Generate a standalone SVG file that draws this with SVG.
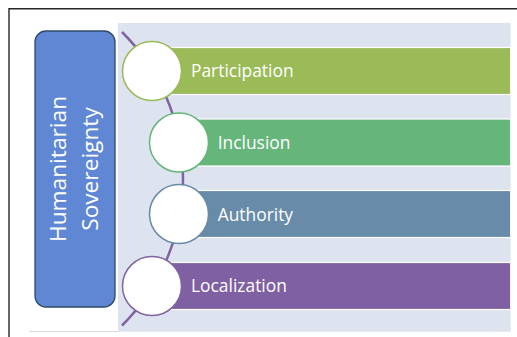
<svg xmlns="http://www.w3.org/2000/svg" width="517" height="337" viewBox="0 0 517 337">
  <style>
    .frame { fill: none; stroke: #262626; stroke-width: 1.4; }
    .panel { fill: #DDE4EF; }
    .bar { stroke: #FFFFFF; stroke-width: 1.2; }
    .dot { fill: #FFFFFF; stroke-width: 1.5; }
    .label { font-family: "Open Sans", "Liberation Sans", sans-serif; font-size: 17.4px; fill: #FFFFFF; }
    .title { font-family: "Open Sans", "Liberation Sans", sans-serif; font-size: 22.7px; fill: #FFFFFF; text-anchor: middle; }
    .spine { fill: none; stroke: #8064A2; stroke-width: 2.5; }
  </style>

  <rect width="517" height="337" fill="#FFFFFF"/>

  <!-- outer frame -->
  <path class="frame" d="M9,337 V8.7 H517"/>
  <line x1="29" y1="331.5" x2="118" y2="331.5" stroke="#D9D9D9" stroke-width="1.2"/>

  <!-- light background panel -->
  <rect class="panel" x="118" y="23" width="392.7" height="308.7"/>

  <!-- vertical title box -->
  <g id="title">
    <rect x="35" y="31" width="80" height="276" rx="11" ry="11" fill="#5F87D3" stroke="#2E4A6B" stroke-width="1.3"/>
    <text class="title" transform="translate(66,169) rotate(-90)">Humanitarian</text>
    <text class="title" transform="translate(97.5,169) rotate(-90)">Sovereignty</text>
  </g>

  <!-- bars -->
  <g id="bar-participation">
    <rect class="bar" x="152" y="47.5" width="358.7" height="47" fill="#9BBB59"/>
  </g>
  <g id="bar-inclusion">
    <rect class="bar" x="179" y="119" width="331.7" height="47" fill="#66B57A"/>
  </g>
  <g id="bar-authority">
    <rect class="bar" x="179" y="190.5" width="331.7" height="47" fill="#678BA8"/>
  </g>
  <g id="bar-localization">
    <rect class="bar" x="152" y="262.5" width="358.7" height="47" fill="#7F60A2"/>
  </g>

  <!-- connectors -->
  <g id="connectors">
    <path class="spine" d="M122,32 A207,207 0 0 1 122,325.5"/>
  </g>

  <!-- nodes -->
  <g id="participation">
    <circle class="dot" cx="152" cy="71" r="29.5" stroke="#9BBB59"/>
    <text class="label" x="191" y="77.3">Participation</text>
  </g>
  <g id="inclusion">
    <circle class="dot" cx="179" cy="142.5" r="29.5" stroke="#66B57A"/>
    <text class="label" x="217.7" y="149">Inclusion</text>
  </g>
  <g id="authority">
    <circle class="dot" cx="179" cy="214" r="29.5" stroke="#678BA8"/>
    <text class="label" x="217.7" y="220.6">Authority</text>
  </g>
  <g id="localization">
    <circle class="dot" cx="152" cy="286" r="29.5" stroke="#8064A2"/>
    <text class="label" x="191" y="292">Localization</text>
  </g>
</svg>
